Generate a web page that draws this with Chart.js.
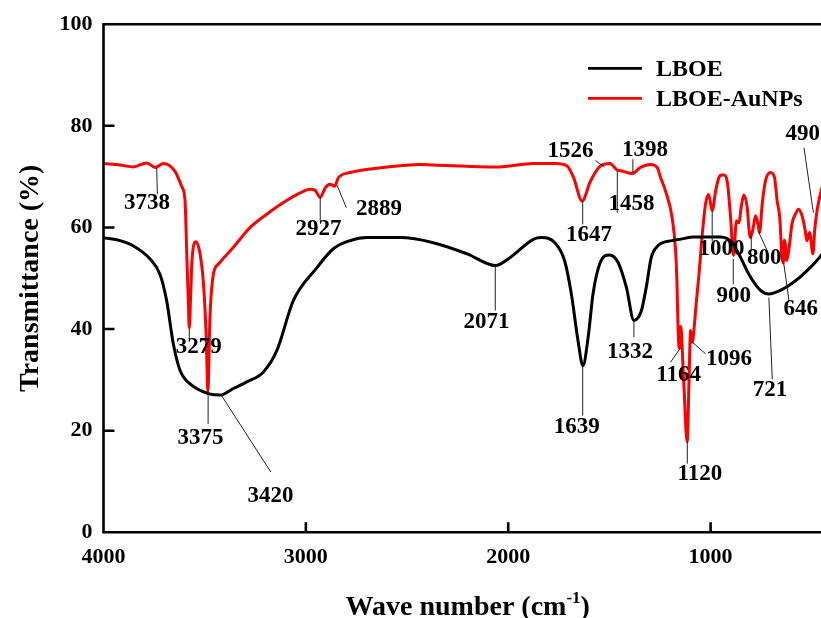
<!DOCTYPE html>
<html>
<head>
<meta charset="utf-8">
<title>FTIR spectra — LBOE / LBOE-AuNPs</title>
<script src="https://cdn.jsdelivr.net/npm/chart.js@4.4.1/dist/chart.umd.min.js"></script>
<style>
  html, body { margin: 0; padding: 0; background: #fff; overflow: hidden; }
  #wrap { width: 832px; height: 618px; }
</style>
</head>
<body>
<div id="wrap"><canvas id="ftir" width="832" height="618"></canvas></div>
<script>
// spectra, wavenumber (cm-1) vs transmittance (%)
const seriesNames = ["LBOE", "LBOE-AuNPs"];
const seriesColors = ["#000000", "#ff0000"];

const lboeWave = [4000, 3918, 3854, 3770, 3721, 3688, 3655, 3622, 3572, 3482, 3424, 3358, 3292, 3211, 3143,
  3062, 2945, 2864, 2781, 2698, 2534, 2370, 2203, 2064, 1990, 1874, 1836, 1770, 1721, 1688, 1655, 1631,
  1605, 1581, 1548, 1499, 1457, 1416, 1379, 1342, 1318, 1293, 1260, 1190, 1148, 1082, 951, 893, 852, 811,
  753, 712, 655, 590, 523, 452, 440];
const lboeT = [58.0, 57.4, 56.4, 53.8, 50.8, 45.6, 37.1, 31.9, 29.2, 27.3, 27.0, 28.3, 29.6, 31.5, 35.8,
  45.6, 52.1, 55.8, 57.4, 58.0, 58.0, 57.0, 54.8, 52.5, 54.1, 57.7, 58.0, 57.0, 53.4, 46.9, 37.7, 32.8,
  38.4, 46.9, 52.8, 54.6, 53.1, 48.2, 41.7, 43.6, 48.2, 54.1, 56.4, 57.4, 57.7, 58.1, 58.1, 57.0, 54.1, 50.8,
  47.6, 46.9, 47.6, 49.2, 51.5, 54.6, 55.4];

const auWave = [4000, 3920, 3853, 3786, 3745, 3704, 3646, 3613, 3597, 3589, 3581, 3576, 3569, 3563, 3543,
  3523, 3506, 3493, 3484, 3474, 3457, 3432, 3358, 3275, 3193, 3111, 3028, 2979, 2954, 2929, 2904, 2880,
  2858, 2839, 2781, 2616, 2435, 2370, 2055, 1874, 1767, 1709, 1677, 1635, 1594, 1544, 1498, 1462, 1437,
  1388, 1347, 1297, 1264, 1247, 1223, 1190, 1173, 1166, 1160, 1153, 1148, 1132, 1116, 1107, 1099, 1090,
  1082, 1070, 1058, 1041, 1025, 1010, 992, 975, 959, 944, 934, 918, 901, 887, 872, 860, 849, 836, 819,
  811, 803, 789, 778, 767, 758, 745, 729, 704, 684, 671, 658, 648, 641, 636, 630, 624, 614, 597, 581,
  565, 548, 532, 524, 511, 494, 486, 474, 458, 445];
const auT = [72.6, 72.3, 71.9, 72.7, 71.8, 72.6, 71.0, 68.0, 65.2, 55.4, 45.6, 40.2, 47.0, 53.4, 57.2,
  54.8, 48.9, 39.1, 27.9, 42.3, 50.8, 52.8, 56.1, 60.0, 62.6, 64.9, 66.8, 67.5, 67.3, 65.9, 67.8, 68.5,
  68.1, 69.8, 70.8, 71.8, 72.4, 72.3, 71.9, 72.6, 72.6, 72.1, 69.8, 65.2, 69.1, 72.1, 72.6, 71.3, 71.1,
  70.6, 71.8, 72.4, 71.8, 69.8, 67.2, 61.9, 55.4, 49.0, 39.0, 36.2, 40.5, 29.0, 17.8, 29.0, 39.7, 37.4,
  40.0, 45.5, 50.5, 58.7, 64.6, 66.5, 63.3, 67.2, 69.8, 70.3, 70.3, 69.1, 61.9, 54.5, 61.3, 60.9, 63.9, 66.4, 63.9,
  60.0, 58.0, 60.0, 62.3, 60.9, 59.0, 64.6, 69.1, 70.8, 69.8, 65.2, 61.9, 54.5, 53.0, 57.5, 56.5, 53.5, 55.4, 60.9, 62.6,
  63.6, 62.3, 59.3, 57.4, 59.0, 54.8, 59.3, 63.3, 66.5, 68.5];

const xTickValues = [4000, 3000, 2000, 1000];
const yTickValues = [0, 20, 40, 60, 80, 100];

// peak assignments: label text, point on the curve (wavenumber, %T)
const peakLabels = ["3738", "2927", "2889", "3279", "3375", "3420", "2071", "1639", "1332", "1120", "1164",
  "1096", "721", "646", "800", "", "900", "1000", "490", "1526", "1458", "1398", "1647"];
const peakWave = [3737, 2929, 2846, 3576, 3483, 3415, 2064, 1632, 1379, 1115, 1152,
  1090, 712, 640, 799, 765, 888, 992, 492, 1524, 1461, 1384, 1632];
const peakT = [71.7, 65.9, 68.3, 40.0, 27.9, 26.8, 52.5, 32.8, 41.7, 17.7, 36.1,
  37.4, 46.2, 53.4, 58.7, 59.3, 53.8, 63.2, 62.9, 71.9, 71.1, 70.8, 65.2];

// where each leader line ends and where its text sits, in px from the curve point
const leaderEnd = [[0.6, 26.3], [0, 23.3], [9.3, 22.4], [0, 10], [0, 33.3], [49, 76], [0, 45], [0, 50],
  [0, 16.7], [0, 21.3], [-9.3, 13.4], [13.3, 11.6], [3.4, 81.6], [5.6, 40], [0, 15], [9.2, 20], [0, 25.3],
  [0, 30], [-9.4, -65], [-9, -6.4], [0, 41.7], [0, -13.4], [0, 23.3]];
const labelAt = [[-9.7, 35], [-1.7, 31.6], [42, 23.7], [9.5, 18.4], [-7.7, 48], [48.6, 99.6], [-8.7, 56.7],
  [-6, 61], [-4, 32], [12.6, 31.7], [-1.3, 26.4], [36.6, 16.3], [1.2, 93], [17.3, 48.3], [13, 23.7], [0, 0],
  [0.6, 36.7], [9.3, 38.3], [-10.7, -78.4], [-34, -16.2], [14.1, 33], [12, -22.2], [6.4, 33.7]];

const SERIF = "'Liberation Serif', 'Times New Roman', serif";

function points(xs, ys) {
  return xs.map(function (x, i) { return { x: x, y: ys[i] }; });
}

// box, inward ticks, peak labels, legend and axis titles
const decorations = {
  id: "decorations",
  afterDatasetsDraw(chart) {
    const ctx = chart.ctx;
    const a = chart.chartArea;
    const xs = chart.scales.x;
    const ys = chart.scales.y;
    ctx.save();

    ctx.strokeStyle = "#000";
    ctx.lineWidth = 2.6;
    ctx.lineJoin = "miter";
    ctx.beginPath();
    ctx.rect(a.left, a.top, a.right - a.left, a.bottom - a.top);
    xTickValues.forEach(function (v) {
      const px = xs.getPixelForValue(v);
      ctx.moveTo(px, a.bottom);
      ctx.lineTo(px, a.bottom - 10);
    });
    yTickValues.forEach(function (v) {
      const py = ys.getPixelForValue(v);
      ctx.moveTo(a.left, py);
      ctx.lineTo(a.left + 11, py);
    });
    ctx.stroke();

    // leader lines
    ctx.lineWidth = 1;
    ctx.strokeStyle = "#222";
    ctx.beginPath();
    peakWave.forEach(function (w, i) {
      const px = xs.getPixelForValue(w);
      const py = ys.getPixelForValue(peakT[i]);
      ctx.moveTo(px, py);
      ctx.lineTo(px + leaderEnd[i][0], py + leaderEnd[i][1]);
    });
    ctx.stroke();

    ctx.fillStyle = "#000";
    ctx.font = "bold 23px " + SERIF;
    ctx.textAlign = "center";
    ctx.textBaseline = "middle";
    peakLabels.forEach(function (t, i) {
      if (!t) return;
      const px = xs.getPixelForValue(peakWave[i]);
      const py = ys.getPixelForValue(peakT[i]);
      ctx.fillText(t, px + labelAt[i][0], py + labelAt[i][1]);
    });

    // legend
    ctx.font = "bold 24px " + SERIF;
    ctx.textAlign = "left";
    ctx.textBaseline = "alphabetic";
    chart.data.datasets.forEach(function (ds, i) {
      const ly = 68.3 + i * 30;
      ctx.strokeStyle = ds.borderColor;
      ctx.lineWidth = 2.8;
      ctx.beginPath();
      ctx.moveTo(588, ly);
      ctx.lineTo(642, ly);
      ctx.stroke();
      ctx.fillText(ds.label, 656, ly + 7.8);
    });

    // x title with superscript
    const mid = (a.left + a.right) / 2;
    const main = "Wave number (cm";
    const sup = "-1";
    ctx.font = "bold 28px " + SERIF;
    const wMain = ctx.measureText(main).width;
    const wClose = ctx.measureText(")").width;
    ctx.font = "bold 17px " + SERIF;
    const wSup = ctx.measureText(sup).width;
    let tx = mid - (wMain + wSup + wClose) / 2;
    ctx.font = "bold 28px " + SERIF;
    ctx.fillText(main, tx, 615);
    tx += wMain;
    ctx.font = "bold 17px " + SERIF;
    ctx.fillText(sup, tx, 603);
    tx += wSup;
    ctx.font = "bold 28px " + SERIF;
    ctx.fillText(")", tx, 615);

    // y title
    ctx.translate(31, (a.top + a.bottom) / 2);
    ctx.rotate(-Math.PI / 2);
    ctx.textAlign = "center";
    ctx.textBaseline = "middle";
    ctx.fillText("Transmittance (%)", 0, 0);

    ctx.restore();
  }
};

function plainTick(value) {
  return String(value);
}

new Chart(document.getElementById("ftir"), {
  type: "line",
  data: {
    datasets: [
      { label: seriesNames[0], data: points(lboeWave, lboeT), borderColor: seriesColors[0] },
      { label: seriesNames[1], data: points(auWave, auT), borderColor: seriesColors[1] }
    ]
  },
  options: {
    responsive: false,
    animation: false,
    layout: { padding: { top: 22.7, right: 0, bottom: 0, left: 0 } },
    elements: {
      point: { radius: 0 },
      line: { borderWidth: 3, cubicInterpolationMode: "monotone", fill: false }
    },
    plugins: { legend: { display: false }, tooltip: { enabled: false } },
    scales: {
      x: {
        type: "linear",
        reverse: true,
        min: 400,
        max: 4000,
        grid: { display: false, drawTicks: false },
        border: { display: false },
        afterBuildTicks: function (scale) {
          scale.ticks = xTickValues.map(function (v) { return { value: v }; });
        },
        afterFit: function (scale) { scale.height = 618 - 532.3; },
        ticks: {
          color: "#000",
          padding: 12,
          maxRotation: 0,
          callback: plainTick,
          font: { family: SERIF, size: 22, weight: "bold" }
        }
      },
      y: {
        min: 0,
        max: 100,
        grid: { display: false, drawTicks: false },
        border: { display: false },
        afterBuildTicks: function (scale) {
          scale.ticks = yTickValues.map(function (v) { return { value: v }; });
        },
        afterFit: function (scale) { scale.width = 103.5; },
        ticks: {
          color: "#000",
          padding: 11,
          callback: plainTick,
          font: { family: SERIF, size: 22, weight: "bold" }
        }
      }
    }
  },
  plugins: [decorations]
});
</script>
</body>
</html>
